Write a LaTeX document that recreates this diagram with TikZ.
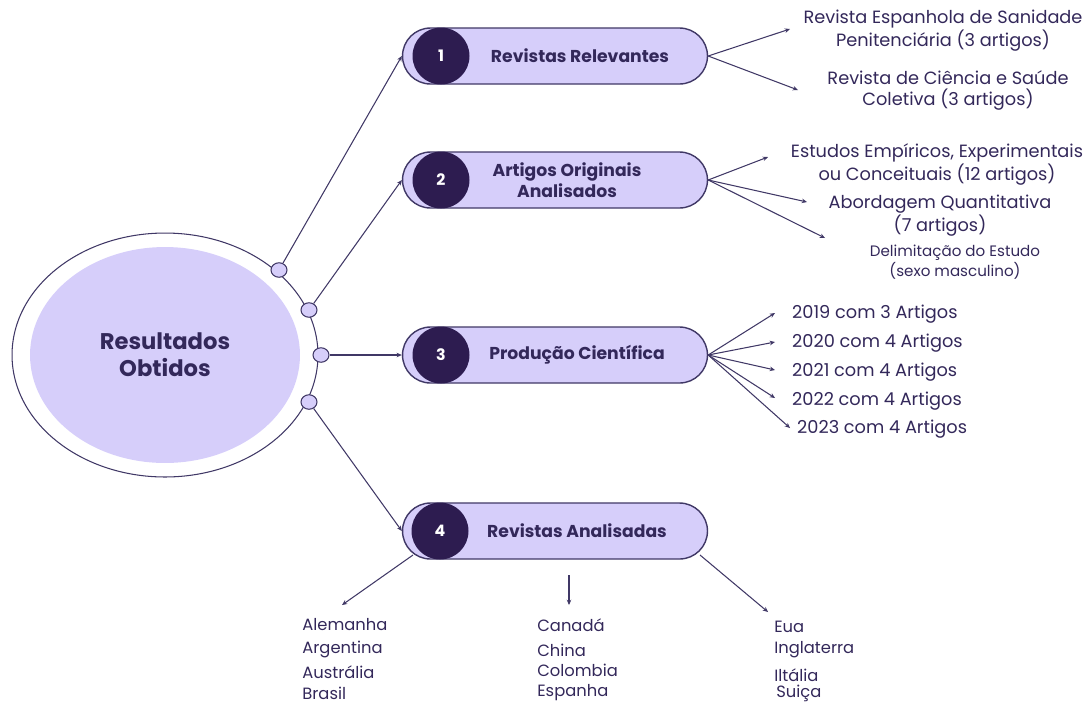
\documentclass[tikz,border=0pt]{standalone}
\usepackage{fontspec}
\setmainfont{Poppins}
\usetikzlibrary{arrows.meta,shapes.geometric}
\definecolor{ink}{HTML}{33285a}
\definecolor{lilac}{HTML}{d6cefa}
\definecolor{plum}{HTML}{2d1c50}
\definecolor{wire}{HTML}{403866}

\begin{document}
\begin{tikzpicture}[x=0.02cm, y=-0.02cm,
  every node/.style={font=\fontsize{10.1}{12}\selectfont\color{ink}, align=center},
  pill/.style={draw=wire, fill=lilac, line width=0.8pt, rounded corners=0.56cm, minimum width=6.1cm, minimum height=1.12cm},
  badge/.style={circle, fill=plum, minimum size=1.14cm, inner sep=0pt, font=\fontsize{9}{10}\selectfont\bfseries\color{white}},
  knob/.style={ellipse, draw=wire, fill=lilac, line width=0.6pt, minimum width=0.32cm, minimum height=0.29cm, inner sep=0pt},
  link/.style={draw=wire, line width=0.6pt, -{Stealth[length=3pt,width=2.6pt]}},
  title/.style={font=\fontsize{9.8}{12}\selectfont\bfseries\color{ink}},
  country/.style={anchor=west, inner sep=0pt, font=\fontsize{9.3}{10}\selectfont\color{ink}}]
  \useasboundingbox (0,0) rectangle (1087,704);
  % Hub
  \node[ellipse, draw=wire, line width=0.6pt, minimum width=6.12cm, minimum height=4.88cm] (ring) at (165,355) {};
  \node[ellipse, fill=lilac, minimum width=5.4cm, minimum height=4.32cm, font=\fontsize{12.9}{15.5}\selectfont\bfseries\color{ink}] (hub) at (165,355) {Resultados\\Obtidos};
  \node[knob] (k1) at (279,270) {};
  \node[knob] (k2) at (309,310) {};
  \node[knob] (k3) at (321,355) {};
  \node[knob] (k4) at (309,402) {};
  % Pills
  \node[pill] (p1) at (555,56) {};
  \node[badge] (n1) at (441,56) {1};
  \node[title] at (580,56) {Revistas Relevantes};

  \node[pill] (p2) at (555,180) {};
  \node[badge] (n2) at (441,180) {2};
  \node[title] at (567,180) {Artigos Originais\\Analisados};

  \node[pill] (p3) at (555,355) {};
  \node[badge] (n3) at (441,355) {3};
  \node[title] at (577,355) {Produção Científica};

  \node[pill] (p4) at (555,531) {};
  \node[badge] (n4) at (440,531) {4};
  \node[title] at (577,531) {Revistas Analisadas};
  % Hub to pills
  \draw[link] (k1) -- (p1.west);
  \draw[link] (k2) -- (p2.west);
  \draw[link] (k3) -- (p3.west);
  \draw[link] (k4) -- (p4.west);
  % Branches 1
  \node (r1) at (943,31) {Revista Espanhola de Sanidade\\Penitenciária (3 artigos)};
  \node (r2) at (948,90) {Revista de Ciência e Saúde\\Coletiva (3 artigos)};
  \coordinate (r1tip) at (790,29);
  \coordinate (r2tip) at (798,90);
  \draw[link] (p1.east) -- (r1tip);
  \draw[link] (p1.east) -- (r2tip);
  % Branches 2
  \node (a1) at (937,164) {Estudos Empíricos, Experimentais\\ou Conceituais (12 artigos)};
  \node (a2) at (940,216) {Abordagem Quantitativa\\(7 artigos)};
  \node[font=\fontsize{8.6}{11}\selectfont\color{ink}] (a3) at (955,262) {Delimitação do Estudo\\(sexo masculino)};
  \coordinate (a1tip) at (768,157);
  \coordinate (a2tip) at (807,202);
  \coordinate (a3tip) at (825,238);
  \draw[link] (p2.east) -- (a1tip);
  \draw[link] (p2.east) -- (a2tip);
  \draw[link] (p2.east) -- (a3tip);
  % Branches 3
  \node[anchor=west] (y1) at (786,314) {2019 com 3 Artigos};
  \node[anchor=west] (y2) at (786,343) {2020 com 4 Artigos};
  \node[anchor=west] (y3) at (786,372) {2021 com 4 Artigos};
  \node[anchor=west] (y4) at (786,401) {2022 com 4 Artigos};
  \node[anchor=west] (y5) at (791,429) {2023 com 4 Artigos};
  \coordinate (y1tip) at (775,313);
  \coordinate (y2tip) at (775,342);
  \coordinate (y3tip) at (775,370);
  \coordinate (y4tip) at (775,398);
  \coordinate (y5tip) at (790,428);
  \foreach \t in {y1tip,y2tip,y3tip,y4tip,y5tip}
    \draw[link] (p3.east) -- (\t);
  % Branches 4
  \coordinate (c1from) at (413,555);
  \coordinate (c1tip) at (342,605);
  \coordinate (c2from) at (569,575);
  \coordinate (c2tip) at (569,605);
  \coordinate (c3from) at (700,555);
  \coordinate (c3tip) at (768,612);
  \draw[link] (c1from) -- (c1tip);
  \draw[link] (c2from) -- (c2tip);
  \draw[link] (c3from) -- (c3tip);
  \node[country] (de) at (302,625) {Alemanha};
  \node[country] (ar) at (302,649) {Argentina};
  \node[country] (au) at (302,672) {Austrália};
  \node[country] (br) at (302,693) {Brasil};
  \node[country] (ca) at (537,625) {Canadá};
  \node[country] (cn) at (537,650) {China};
  \node[country] (co) at (537,670) {Colombia};
  \node[country] (es) at (537,693) {Espanha};
  \node[country] (us) at (774,627) {Eua};
  \node[country] (uk) at (774,650) {Inglaterra};
  \node[country] (it) at (774,675) {Iltália};
  \node[country] (ch) at (776,693) {Suiça};
\end{tikzpicture}
\end{document}
